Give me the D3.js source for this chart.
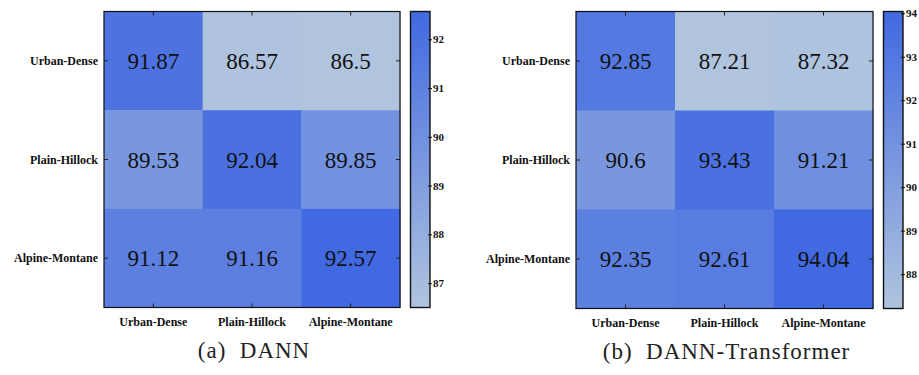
<!DOCTYPE html>
<html>
<head>
<meta charset="utf-8">
<script src="https://cdn.jsdelivr.net/npm/d3@7"></script>
<style>
  html, body { margin: 0; padding: 0; background: #fff; }
  svg { display: block; }
  .serif { font-family: "Liberation Serif", "Times New Roman", Times, "DejaVu Serif", serif; }
</style>
</head>
<body>
<svg id="chart" width="919" height="375"></svg>
<script>
// Terrain categories (rows = source, columns = target)
const terrains = ["Urban-Dense", "Plain-Hillock", "Alpine-Montane"];

// Accuracy matrices (%)
const dannValues = [
  [91.87, 86.57, 86.5],
  [89.53, 92.04, 89.85],
  [91.12, 91.16, 92.57]
];
const dannTransformerValues = [
  [92.85, 87.21, 87.32],
  [90.6, 93.43, 91.21],
  [92.35, 92.61, 94.04]
];

// Colour bar tick labels
const dannTicks = [87, 88, 89, 90, 91, 92];
const dannTransformerTicks = [88, 89, 90, 91, 92, 93, 94];

// Panel captions
const captions = ["(a)  DANN", "(b)  DANN-Transformer"];

const lowColor = "#b0c4de";   // lightsteelblue
const highColor = "#4169e1";  // royalblue

const svg = d3.select("#chart");
const defs = svg.append("defs");

function drawPanel(opts) {
  const { left, top, size, values, ticks, caption, id } = opts;
  const flat = values.flat();
  const vmin = d3.min(flat), vmax = d3.max(flat);
  const color = d3.scaleLinear().domain([vmin, vmax])
    .range([lowColor, highColor]).interpolate(d3.interpolateRgb);

  const x = d3.scaleBand().domain(terrains).range([left, left + size]);
  const y = d3.scaleBand().domain(terrains).range([top, top + size]);

  const g = svg.append("g").attr("class", "serif");

  // cells
  const cells = [];
  values.forEach((row, i) => row.forEach((v, j) => cells.push({ r: terrains[i], c: terrains[j], v })));
  g.selectAll("rect.cell").data(cells).enter().append("rect")
    .attr("class", "cell")
    .attr("x", d => x(d.c))
    .attr("y", d => y(d.r))
    .attr("width", x.bandwidth() + 0.5)
    .attr("height", y.bandwidth() + 0.5)
    .attr("fill", d => color(d.v));

  g.selectAll("text.val").data(cells).enter().append("text")
    .attr("class", "val")
    .attr("x", d => x(d.c) + x.bandwidth() / 2)
    .attr("y", d => y(d.r) + y.bandwidth() / 2)
    .attr("dy", "0.35em")
    .attr("text-anchor", "middle")
    .attr("font-size", 23)
    .attr("fill", "#111")
    .text(d => d.v);

  // ticks pointing inward on all four sides
  const tl = 4;
  const tickG = g.append("g").attr("stroke", "#222").attr("stroke-width", 1);
  terrains.forEach(t => {
    const cx = x(t) + x.bandwidth() / 2;
    const cy = y(t) + y.bandwidth() / 2;
    tickG.append("line").attr("x1", cx).attr("x2", cx).attr("y1", top).attr("y2", top + tl);
    tickG.append("line").attr("x1", cx).attr("x2", cx).attr("y1", top + size).attr("y2", top + size - tl);
    tickG.append("line").attr("x1", left).attr("x2", left + tl).attr("y1", cy).attr("y2", cy);
    tickG.append("line").attr("x1", left + size).attr("x2", left + size - tl).attr("y1", cy).attr("y2", cy);
  });

  g.append("rect")
    .attr("x", left).attr("y", top).attr("width", size).attr("height", size)
    .attr("fill", "none").attr("stroke", "#111").attr("stroke-width", 1.2);

  // row labels
  g.selectAll("text.rowlab").data(terrains).enter().append("text")
    .attr("x", left - 6)
    .attr("y", d => y(d) + y.bandwidth() / 2)
    .attr("dy", "0.35em")
    .attr("text-anchor", "end")
    .attr("font-weight", "bold").attr("font-size", 12)
    .attr("fill", "#111")
    .text(d => d);
  // column labels
  g.selectAll("text.collab").data(terrains).enter().append("text")
    .attr("x", d => x(d) + x.bandwidth() / 2)
    .attr("y", top + size + 18)
    .attr("text-anchor", "middle")
    .attr("font-weight", "bold").attr("font-size", 12)
    .attr("fill", "#111")
    .text(d => d);

  // colour bar
  const cbLeft = left + size + 10.5, cbW = 19.5;
  const cbScale = d3.scaleLinear().domain([vmin, vmax]).range([top + size, top]);
  const grad = defs.append("linearGradient").attr("id", id)
    .attr("x1", 0).attr("y1", 1).attr("x2", 0).attr("y2", 0);
  grad.append("stop").attr("offset", 0).attr("stop-color", color(vmin));
  grad.append("stop").attr("offset", 1).attr("stop-color", color(vmax));
  g.append("rect")
    .attr("x", cbLeft).attr("y", top).attr("width", cbW).attr("height", size)
    .attr("fill", `url(#${id})`).attr("stroke", "#111").attr("stroke-width", 1.4);

  const axis = d3.axisRight(cbScale).tickValues(ticks).tickSize(4).tickPadding(1).tickFormat(d3.format("d"));
  const ax = g.append("g").attr("transform", `translate(${cbLeft + cbW - 2},0)`).call(axis);
  ax.attr("font-family", null);
  ax.select(".domain").remove();
  ax.selectAll("line").attr("stroke", "#111");
  ax.selectAll("text")
    .attr("font-weight", "bold").attr("font-size", 11)
    .attr("fill", "#111");

  // caption
  g.append("text")
    .attr("x", left + size / 2 + 2)
    .attr("y", top + size + 50)
    .attr("text-anchor", "middle")
    .attr("font-size", 23)
    .attr("letter-spacing", 1)
    .attr("fill", "#222")
    .attr("xml:space", "preserve")
    .style("white-space", "pre")
    .text(caption);
}

drawPanel({ left: 104, top: 11.5, size: 296, values: dannValues, ticks: dannTicks, caption: captions[0], id: "cb-a" });
drawPanel({ left: 576, top: 11.5, size: 297, values: dannTransformerValues, ticks: dannTransformerTicks, caption: captions[1], id: "cb-b" });
</script>
</body>
</html>
